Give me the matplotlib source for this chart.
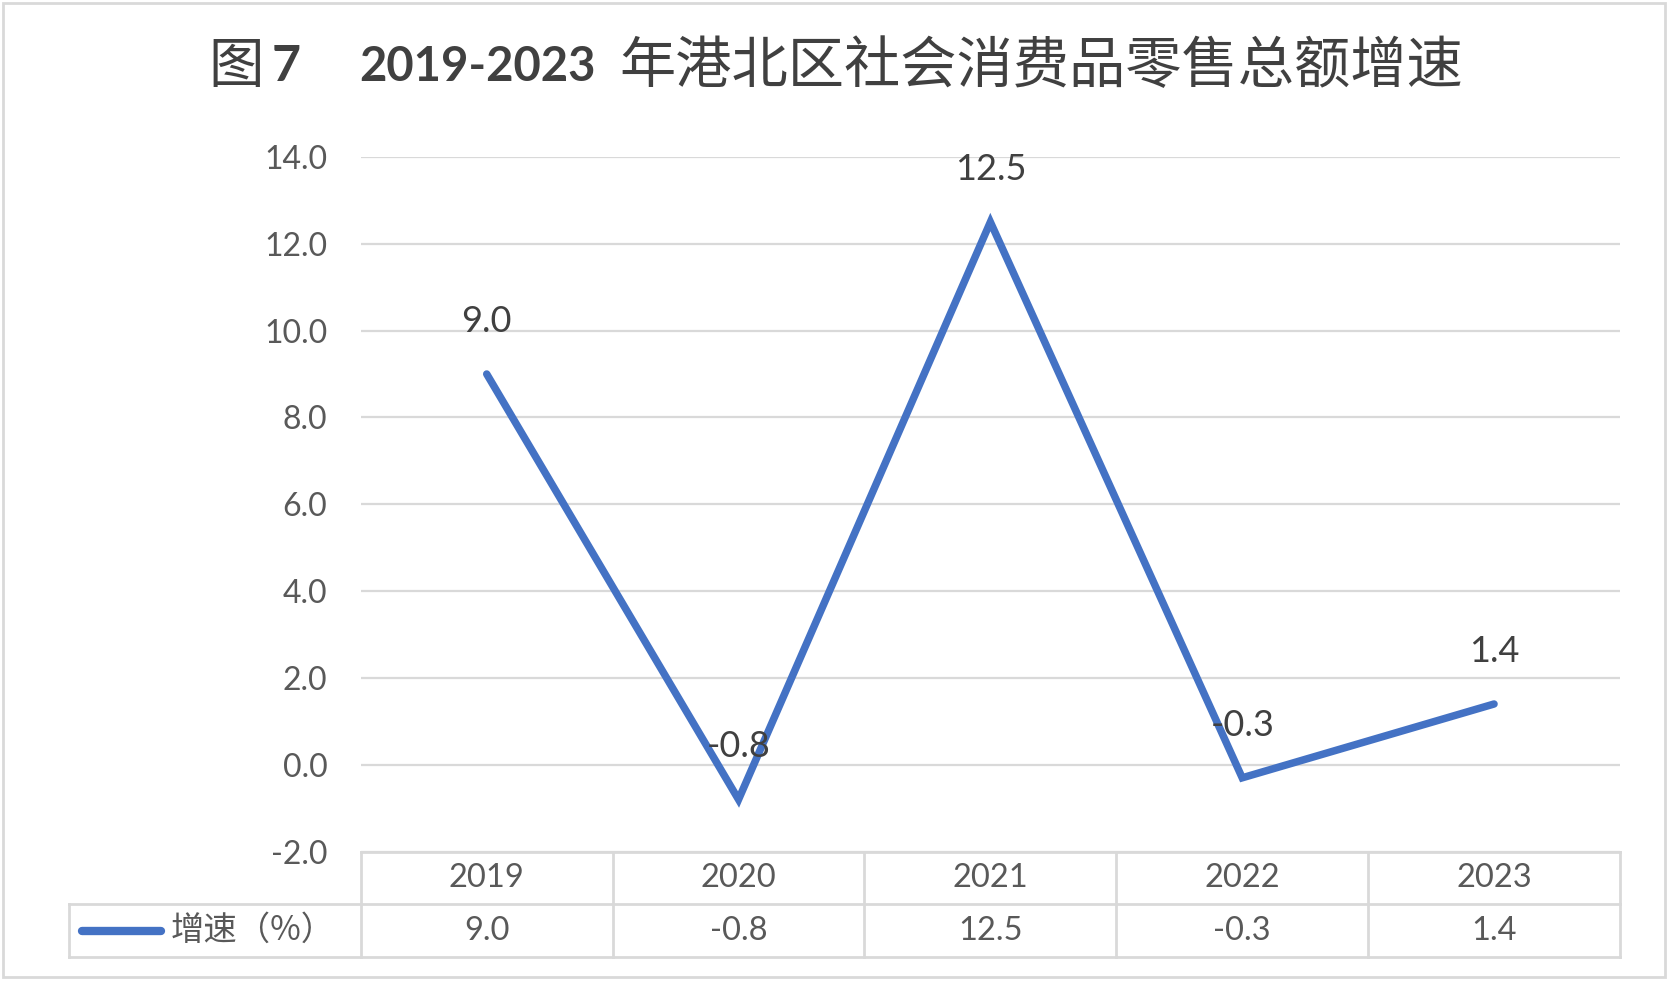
import matplotlib.pyplot as plt
from matplotlib.patches import Rectangle
import matplotlib.transforms as mtransforms

# Data
years = ['2019', '2020', '2021', '2022', '2023']
growth = [9.0, -0.8, 12.5, -0.3, 1.4]
series_name = '增速（%）'
yticks = [-2, 0, 2, 4, 6, 8, 10, 12, 14]

line_color = '#4472C4'
grid_color = '#d9d9d9'
text_color = '#595959'
num_font = ['Lato', 'Noto Sans CJK SC']
cjk_font = ['Noto Sans CJK SC', 'DejaVu Sans']

fig = plt.figure(figsize=(16.68, 9.85), dpi=100)
ax = fig.add_axes([0.2163, 0.1354, 0.9712 - 0.2163, 0.8407 - 0.1354])

x = list(range(len(years)))
ax.plot(x, growth, color=line_color, lw=5.4, solid_capstyle='round',
        solid_joinstyle='miter', zorder=3)

# Data labels
for xi, v in zip(x, growth):
    ax.annotate(f'{v:.1f}', (xi, v), xytext=(0, 38), textcoords='offset points',
                ha='center', va='center', fontsize=26, color='#404040',
                family=num_font, zorder=4)

ax.set_xlim(-0.5, len(years) - 0.5)
ax.set_ylim(-2, 14)
ax.set_yticks(yticks)
ax.set_yticklabels([f'{t:.1f}' for t in yticks], family=num_font,
                   fontsize=23, color=text_color)
ax.set_xticks([])
ax.tick_params(axis='y', length=0, pad=24)
for s in ax.spines.values():
    s.set_visible(False)
ax.grid(axis='y', color=grid_color, lw=1.6)
ax.set_axisbelow(True)

# Data table under the plot
trans = mtransforms.blended_transform_factory(ax.transData, ax.transAxes)
row1, bottom = -0.0753, -0.152
legend_left = -1.657
hdr_y, val_y = -0.0376, -0.1137
n = len(years)
kw = dict(transform=trans, color=grid_color, lw=2, clip_on=False)
ax.plot([-0.5, n - 0.5], [0, 0], **kw)
ax.plot([legend_left, n - 0.5], [row1, row1], **kw)
ax.plot([legend_left, n - 0.5], [bottom, bottom], **kw)
ax.plot([legend_left, legend_left], [row1, bottom], **kw)
for i in range(n + 1):
    ax.plot([i - 0.5, i - 0.5], [0, bottom], **kw)
for xi, yr, v in zip(x, years, growth):
    ax.text(xi, hdr_y, yr, transform=trans, ha='center', va='center',
            fontsize=23.5, color=text_color, family=num_font)
    ax.text(xi, val_y, f'{v:.1f}', transform=trans, ha='center', va='center',
            fontsize=23.5, color=text_color, family=num_font)
# legend key inside table
ax.plot([-1.607, -1.293], [val_y, val_y], transform=trans, color=line_color,
        lw=6, solid_capstyle='round', clip_on=False)
ax.text(-1.255, val_y, series_name, transform=trans, ha='left', va='center',
        fontsize=24, color=text_color, family=cjk_font)

# Title in pieces (regular CJK, bold numbers)
ty = 0.932
tc = '#404040'
fig.text(0.1248, ty, '图', ha='left', va='center', fontsize=40, color=tc, family=cjk_font)
fig.text(0.1631, ty, '7', ha='left', va='center', fontsize=36, color=tc,
         family=num_font, fontweight='bold')
fig.text(0.2156, ty, '2019-2023', ha='left', va='center', fontsize=34, color=tc,
         family=num_font, fontweight='bold')
fig.text(0.3711, ty, '年港北区社会消费品零售总额增速', ha='left', va='center',
         fontsize=40.5, color=tc, family=cjk_font)

# Outer chart border
fig.patches.append(Rectangle((0.0015, 0.008), 0.9965, 0.989, transform=fig.transFigure,
                             fill=False, edgecolor=grid_color, lw=2))

fig.savefig('out.png', dpi=100, facecolor='white')
